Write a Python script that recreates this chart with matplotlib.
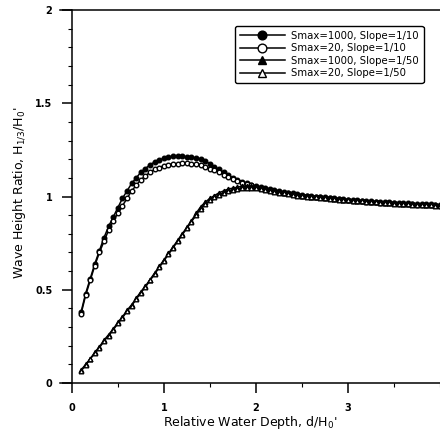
import numpy as np
import matplotlib
matplotlib.use("Agg")
import matplotlib.pyplot as plt
from matplotlib.ticker import MultipleLocator

plt.rcParams['font.family'] = ['DejaVu Sans']
plt.rcParams['mathtext.default'] = 'regular'

# relative water depth d/H0' (sampling grid of the curves)
depth = [0.10, 0.15, 0.20, 0.25, 0.30, 0.35, 0.40, 0.45, 0.50, 0.55,
         0.60, 0.65, 0.70, 0.75, 0.80, 0.85, 0.90, 0.95, 1.00, 1.05,
         1.10, 1.15, 1.20, 1.25, 1.30, 1.35, 1.40, 1.45, 1.50, 1.55,
         1.60, 1.65, 1.70, 1.75, 1.80, 1.85, 1.90, 1.95, 2.00, 2.05,
         2.10, 2.15, 2.20, 2.25, 2.30, 2.35, 2.40, 2.45, 2.50, 2.55,
         2.60, 2.65, 2.70, 2.75, 2.80, 2.85, 2.90, 2.95, 3.00, 3.05,
         3.10, 3.15, 3.20, 3.25, 3.30, 3.35, 3.40, 3.45, 3.50, 3.55,
         3.60, 3.65, 3.70, 3.75, 3.80, 3.85, 3.90, 3.95, 4.00]

# Smax=1000, slope 1/10
h_1000_10 = [0.38, 0.48, 0.56, 0.64, 0.71, 0.78, 0.84, 0.89, 0.94, 0.99,
             1.03, 1.07, 1.10, 1.13, 1.15, 1.17, 1.185, 1.195, 1.205, 1.21,
             1.215, 1.215, 1.215, 1.21, 1.21, 1.205, 1.20, 1.19, 1.175, 1.16,
             1.145, 1.13, 1.115, 1.10, 1.09, 1.08, 1.07, 1.06, 1.055, 1.05,
             1.045, 1.04, 1.035, 1.03, 1.025, 1.02, 1.02, 1.015, 1.01, 1.005,
             1.005, 1.00, 0.995, 0.995, 0.99, 0.99, 0.985, 0.985, 0.98, 0.98,
             0.98, 0.975, 0.975, 0.975, 0.97, 0.97, 0.97, 0.97, 0.965, 0.965,
             0.965, 0.965, 0.96, 0.96, 0.96, 0.96, 0.96, 0.955, 0.955]

# Smax=20, slope 1/10
h_20_10 = [0.37, 0.47, 0.55, 0.63, 0.70, 0.76, 0.82, 0.87, 0.91, 0.95,
           0.99, 1.03, 1.06, 1.09, 1.11, 1.13, 1.145, 1.155, 1.165, 1.17,
           1.175, 1.175, 1.18, 1.18, 1.175, 1.175, 1.17, 1.16, 1.15, 1.14,
           1.13, 1.115, 1.105, 1.095, 1.085, 1.075, 1.065, 1.06, 1.05, 1.045,
           1.04, 1.035, 1.03, 1.025, 1.02, 1.02, 1.015, 1.01, 1.005, 1.005,
           1.00, 1.00, 0.995, 0.99, 0.99, 0.985, 0.985, 0.98, 0.98, 0.975,
           0.975, 0.975, 0.97, 0.97, 0.97, 0.965, 0.965, 0.965, 0.965, 0.96,
           0.96, 0.96, 0.96, 0.955, 0.955, 0.955, 0.955, 0.955, 0.95]

# Smax=1000, slope 1/50
h_1000_50 = [0.07, 0.10, 0.13, 0.165, 0.195, 0.23, 0.26, 0.29, 0.325, 0.355,
             0.39, 0.42, 0.455, 0.49, 0.52, 0.555, 0.59, 0.625, 0.66, 0.695,
             0.73, 0.765, 0.80, 0.835, 0.87, 0.91, 0.945, 0.97, 0.99, 1.005,
             1.02, 1.03, 1.04, 1.045, 1.05, 1.055, 1.055, 1.055, 1.05, 1.045,
             1.04, 1.035, 1.03, 1.025, 1.02, 1.02, 1.015, 1.01, 1.005, 1.005,
             1.00, 1.00, 0.995, 0.99, 0.99, 0.985, 0.985, 0.98, 0.98, 0.98,
             0.975, 0.975, 0.975, 0.97, 0.97, 0.97, 0.965, 0.965, 0.965, 0.965,
             0.96, 0.96, 0.96, 0.96, 0.96, 0.955, 0.955, 0.955, 0.955]

# Smax=20, slope 1/50
h_20_50 = [0.065, 0.095, 0.13, 0.16, 0.19, 0.225, 0.255, 0.285, 0.32, 0.35,
           0.385, 0.415, 0.45, 0.485, 0.515, 0.55, 0.585, 0.62, 0.655, 0.69,
           0.725, 0.76, 0.795, 0.83, 0.865, 0.90, 0.935, 0.96, 0.98, 0.995,
           1.01, 1.02, 1.03, 1.035, 1.04, 1.045, 1.045, 1.045, 1.045, 1.04,
           1.035, 1.03, 1.025, 1.02, 1.02, 1.015, 1.01, 1.005, 1.005, 1.00,
           1.00, 0.995, 0.99, 0.99, 0.985, 0.985, 0.98, 0.98, 0.98, 0.975,
           0.975, 0.975, 0.97, 0.97, 0.97, 0.965, 0.965, 0.965, 0.96, 0.96,
           0.96, 0.96, 0.955, 0.955, 0.955, 0.955, 0.955, 0.95, 0.95]

labels = ["Smax=1000, Slope=1/10", "Smax=20, Slope=1/10",
          "Smax=1000, Slope=1/50", "Smax=20, Slope=1/50"]
series = [h_1000_10, h_20_10, h_1000_50, h_20_50]
markers = ['o', 'o', '^', '^']
faces = ['black', 'white', 'black', 'white']

fig = plt.figure(figsize=(4.4, 4.3), dpi=100)
ax = fig.add_axes([0.136, 0.109, 0.864, 0.868])

for ys, lab, m, fc in zip(series, labels, markers, faces):
    ax.plot(depth, ys, color='black', lw=1.1, marker=m, ms=3.3,
            mfc=fc, mec='black', mew=1.0, label=lab)

ax.set_xlim(-0.13, 4.0)
ax.set_ylim(0, 2)
ax.spines['left'].set_position(('data', 0))
ax.spines['right'].set_visible(False)
for s in ['left', 'bottom', 'top']:
    ax.spines[s].set_linewidth(1.1)

ax.xaxis.set_minor_locator(MultipleLocator(0.5))
ax.yaxis.set_minor_locator(MultipleLocator(0.1))
ax.set_xticks([0, 1, 2, 3])
ax.set_yticks([0, 0.5, 1, 1.5, 2])
ax.set_yticklabels(['0', '0.5', '1', '1.5', '2'])
ax.tick_params(which='major', direction='out', length=7, width=1.1,
               labelsize=7, pad=7)
ax.tick_params(which='minor', direction='out', length=3, width=0.8)
ax.tick_params(top=False, right=False, which='both')
for t in ax.get_xticklabels() + ax.get_yticklabels():
    t.set_fontweight('bold')

ax.set_xlabel("Relative Water Depth, d/H$_0$'", fontsize=9, labelpad=1)
ax.set_ylabel("Wave Height Ratio, H$_{1/3}$/H$_0$'", fontsize=9)
ax.yaxis.set_label_coords(-0.085, 0.51)

leg = ax.legend(loc='upper right', bbox_to_anchor=(0.97, 0.97),
                fontsize=7.3, handlelength=4.5, markerscale=1.9,
                fancybox=True, framealpha=1, edgecolor='black',
                borderpad=0.45, labelspacing=0.25, handletextpad=0.6)
leg.get_frame().set_linewidth(1.0)

fig.savefig("out.png", dpi=100)
